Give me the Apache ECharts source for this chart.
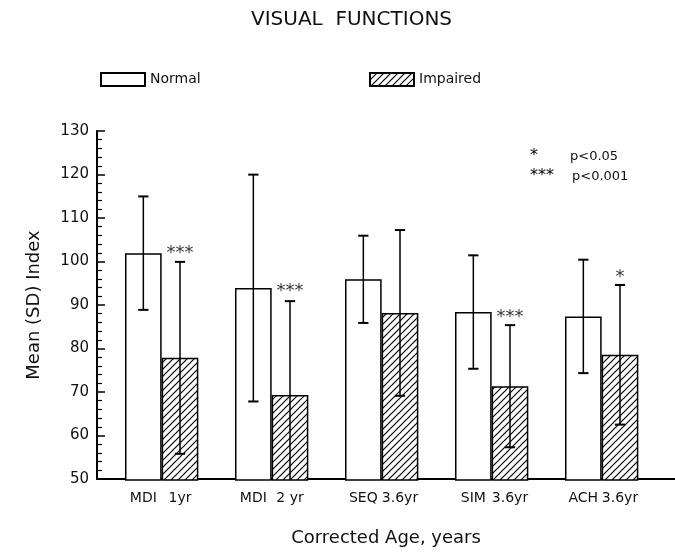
<!DOCTYPE html>
<html>
<head>
<meta charset="utf-8">
<script src="https://cdn.jsdelivr.net/npm/echarts@6/dist/echarts.min.js"></script>
<style>
  html, body { margin: 0; padding: 0; background: #fff; }
  #chart { width: 675px; height: 552px; }
</style>
</head>
<body>
<div id="chart"></div>
<script>
// data
const measures = ["MDI", "MDI", "SEQ", "SIM", "ACH"];
const ages = ["1yr", "2 yr", "3.6yr", "3.6yr", "3.6yr"];
const normalMean = [102, 94, 96, 88.5, 87.5];
const normalSD = [13, 26, 10, 13, 13];
const impairedMean = [78, 69.5, 88.3, 71.5, 78.7];
const impairedSD = [22, 21.5, 19, 14, 16];
const stars = ["***", "***", "", "***", "*"];
const starLevel = [103.2, 94.5, null, 88.5, 97.5];
const yTicks = [50, 60, 70, 80, 90, 100, 110, 120, 130];

const yMin = yTicks[0];
const yMax = yTicks[yTicks.length - 1];
const font = "DejaVu Sans";
const ink = "#111";

// three slots per group: normal, impaired, gap
const cats = [];
const normalData = [];
const impairedData = [];
const errData = [];
const starData = [];
measures.forEach((m, i) => {
  cats.push(m, ages[i], "");
  normalData.push(normalMean[i], "-", "-");
  impairedData.push("-", impairedMean[i], "-");
  errData.push([3 * i, normalMean[i] - normalSD[i], normalMean[i] + normalSD[i]]);
  errData.push([3 * i + 1, impairedMean[i] - impairedSD[i], impairedMean[i] + impairedSD[i]]);
  if (stars[i]) starData.push({ value: [3 * i + 1, starLevel[i]], txt: stars[i] });
});

// diagonal hatch fill
function hatch() {
  const s = 7;
  const c = document.createElement("canvas");
  c.width = s;
  c.height = s;
  const ctx = c.getContext("2d");
  ctx.fillStyle = "#fff";
  ctx.fillRect(0, 0, s, s);
  ctx.strokeStyle = "#000";
  ctx.lineWidth = 1.2;
  ctx.beginPath();
  ctx.moveTo(0, s);
  ctx.lineTo(s, 0);
  ctx.moveTo(-1, 1);
  ctx.lineTo(1, -1);
  ctx.moveTo(s - 1, s + 1);
  ctx.lineTo(s + 1, s - 1);
  ctx.stroke();
  return { image: c, repeat: "repeat" };
}

const chart = echarts.init(document.getElementById("chart"));

const legendBase = {
  icon: "rect",
  itemWidth: 44,
  itemHeight: 13,
  top: 67,
  textStyle: { fontFamily: font, fontSize: 14, color: ink },
};

chart.setOption({
  animation: false,
  backgroundColor: "#fff",
  textStyle: { fontFamily: font, color: ink },
  title: {
    text: "VISUAL  FUNCTIONS",
    left: 246,
    top: 5,
    textStyle: { fontFamily: font, fontSize: 20, fontWeight: "normal", color: ink },
  },
  legend: [
    Object.assign({ data: ["Normal"], left: 95 }, legendBase),
    Object.assign({ data: ["Impaired"], left: 364 }, legendBase),
  ],
  grid: [
    { left: 125, width: 551, top: 131, bottom: 72 },
    { left: 97, right: 0, top: 131, bottom: 72 },
  ],
  xAxis: [
    {
      type: "category",
      gridIndex: 0,
      data: cats,
      axisLine: { show: false },
      axisTick: { show: false },
      axisLabel: { interval: 0, margin: 11, fontFamily: font, fontSize: 14, color: ink },
    },
    {
      type: "value",
      gridIndex: 1,
      min: 0,
      max: 1,
      name: "Corrected Age, years",
      nameLocation: "middle",
      nameGap: 50,
      nameTextStyle: { fontFamily: font, fontSize: 18, color: ink },
      axisLine: { show: true, lineStyle: { color: "#000", width: 2 } },
      axisTick: { show: false },
      axisLabel: { show: false },
      splitLine: { show: false },
    },
  ],
  yAxis: [
    { type: "value", gridIndex: 0, min: yMin, max: yMax, show: false },
    {
      type: "value",
      gridIndex: 1,
      min: yMin,
      max: yMax,
      interval: 10,
      name: "Mean (SD) Index",
      nameLocation: "middle",
      nameGap: 54,
      nameTextStyle: { fontFamily: font, fontSize: 18, color: ink },
      axisLine: { show: true, lineStyle: { color: "#000", width: 2 } },
      axisTick: { show: true, inside: true, length: 8, lineStyle: { color: "#000", width: 1.5 } },
      minorTick: { show: true, splitNumber: 5, length: 5, lineStyle: { color: "#000", width: 1.2 } },
      axisLabel: { margin: 8, fontFamily: font, fontSize: 15, color: ink },
      splitLine: { show: false },
    },
  ],
  series: [
    {
      name: "Normal",
      type: "bar",
      xAxisIndex: 0,
      yAxisIndex: 0,
      data: normalData,
      barWidth: "100%",
      barGap: "-100%",
      itemStyle: { color: "#fff", borderColor: "#000", borderWidth: 1.5 },
    },
    {
      name: "Impaired",
      type: "bar",
      xAxisIndex: 0,
      yAxisIndex: 0,
      data: impairedData,
      barWidth: "100%",
      barGap: "-100%",
      itemStyle: { color: hatch(), borderColor: "#000", borderWidth: 1.5 },
    },
    {
      type: "custom",
      xAxisIndex: 0,
      yAxisIndex: 0,
      data: errData,
      z: 5,
      renderItem(params, api) {
        const x = api.value(0);
        const lo = api.value(1);
        const hi = api.value(2);
        const top = api.coord([x, hi]);
        const bot = api.coord([x, Math.max(lo, yMin)]);
        const w = api.size([1, 0])[0] * 0.14;
        const style = { stroke: "#000", lineWidth: 1.5 };
        const cap = { stroke: "#000", lineWidth: 2 };
        const kids = [
          { type: "line", shape: { x1: top[0], y1: top[1], x2: bot[0], y2: bot[1] }, style },
          { type: "line", shape: { x1: top[0] - w, y1: top[1], x2: top[0] + w, y2: top[1] }, style: cap },
        ];
        if (lo >= yMin) {
          kids.push({ type: "line", shape: { x1: bot[0] - w, y1: bot[1], x2: bot[0] + w, y2: bot[1] }, style: cap });
        }
        return { type: "group", children: kids };
      },
    },
    {
      type: "scatter",
      xAxisIndex: 0,
      yAxisIndex: 0,
      symbolSize: 0,
      data: starData,
      z: 6,
      label: {
        show: true,
        position: "inside",
        offset: [0, 5],
        formatter: (p) => p.data.txt,
        fontFamily: font,
        fontSize: 18,
        color: "#000",
        textBorderWidth: 0,
      },
    },
  ],
  graphic: [
    {
      type: "text",
      left: 530,
      top: 148,
      style: { text: "*", fontFamily: font, fontSize: 16, fill: "#000" },
    },
    {
      type: "text",
      left: 570,
      top: 150,
      style: { text: "p<0.05", fontFamily: font, fontSize: 13, fill: ink },
    },
    {
      type: "text",
      left: 530,
      top: 168,
      style: { text: "***", fontFamily: font, fontSize: 16, fill: "#000" },
    },
    {
      type: "text",
      left: 572,
      top: 170,
      style: { text: "p<0.001", fontFamily: font, fontSize: 13, fill: ink },
    },
  ],
});
</script>
</body>
</html>
